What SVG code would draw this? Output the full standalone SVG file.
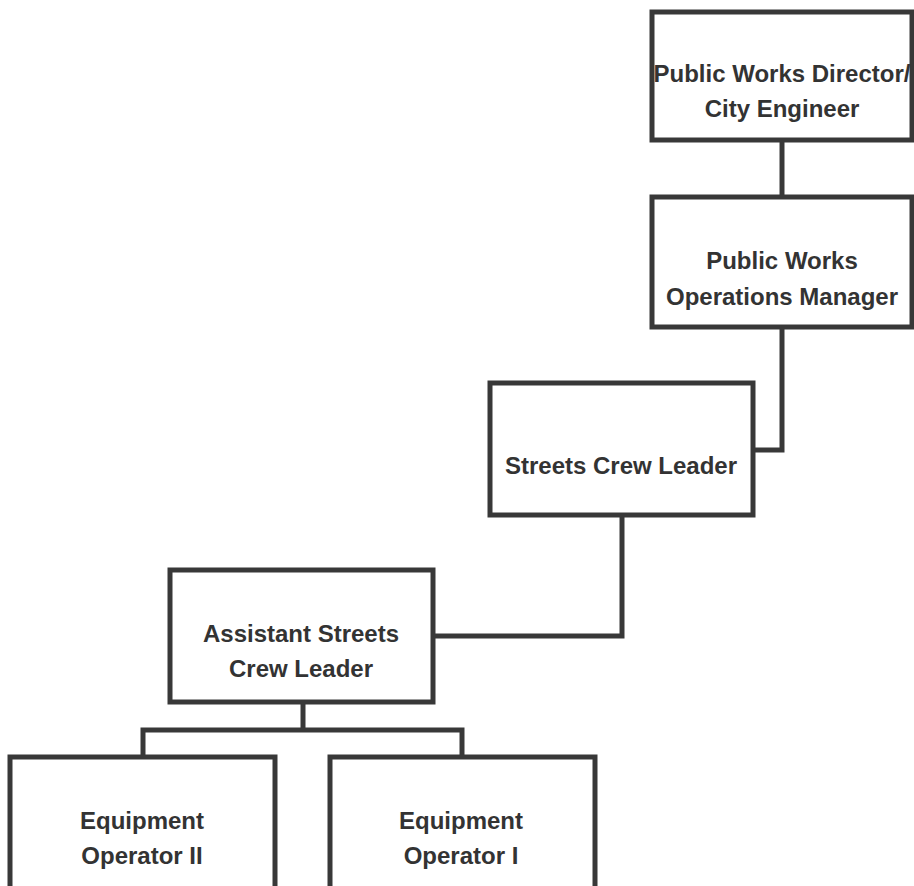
<svg xmlns="http://www.w3.org/2000/svg" width="914" height="886" viewBox="0 0 914 886">
<style>
.box{fill:#fff;stroke:#383838;stroke-width:5}
.lbl{font-family:"Liberation Sans",Arial,sans-serif;font-weight:bold;font-size:24px;fill:#333;text-anchor:middle}
.conn{fill:none;stroke:#383838;stroke-width:5}
</style>
<rect width="914" height="886" fill="#fff"/>
<g id="connectors">
<path class="conn" d="M782 140 V197"/>
<path class="conn" d="M782 327 V450 H753"/>
<path class="conn" d="M622 515 V636 H433"/>
<path class="conn" d="M303 702 V730 M143 757 V730 H462 V757"/>
</g>
<g id="director">
<rect class="box" x="652" y="12" width="260" height="128"/>
<text class="lbl" x="782" y="82">Public Works Director/</text>
<text class="lbl" x="782" y="117">City Engineer</text>
</g>
<g id="ops-manager">
<rect class="box" x="652" y="197" width="260" height="130"/>
<text class="lbl" x="782" y="269">Public Works</text>
<text class="lbl" x="782" y="305">Operations Manager</text>
</g>
<g id="crew-leader">
<rect class="box" x="490" y="383" width="263" height="132"/>
<text class="lbl" x="621" y="474">Streets Crew Leader</text>
</g>
<g id="asst-crew-leader">
<rect class="box" x="170" y="570" width="263" height="132"/>
<text class="lbl" x="301" y="642">Assistant Streets</text>
<text class="lbl" x="301" y="677">Crew Leader</text>
</g>
<g id="operator-2">
<rect class="box" x="10" y="757" width="265" height="150"/>
<text class="lbl" x="142" y="829">Equipment</text>
<text class="lbl" x="142" y="864">Operator II</text>
</g>
<g id="operator-1">
<rect class="box" x="330" y="757" width="265" height="150"/>
<text class="lbl" x="461" y="829">Equipment</text>
<text class="lbl" x="461" y="864">Operator I</text>
</g>
</svg>
